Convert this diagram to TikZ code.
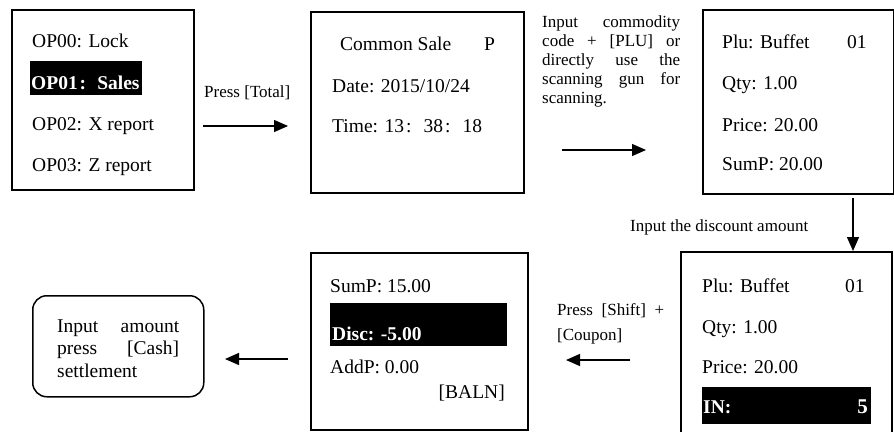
\documentclass[tikz,border=0pt]{standalone}
\usepackage{fontspec}
\setmainfont{Liberation Serif}
\usetikzlibrary{arrows.meta}
\newcommand{\fwc}{\makebox[1em][l]{\hspace{0.1em}:}}
\begin{document}
\begin{tikzpicture}[x=1pt,y=-1pt,
  scr/.style={draw, line width=1.5pt, inner sep=0, anchor=north west},
  hl/.style={fill=black, inner sep=0, anchor=north west},
  bt/.style={anchor=base west, inner sep=0, font=\fontsize{19.5}{22.5}\selectfont},
  bte/.style={anchor=base east, inner sep=0, font=\fontsize{19.5}{22.5}\selectfont},
  wbt/.style={anchor=base west, inner sep=0, text=white, font=\fontsize{19.5}{22.5}\selectfont\bfseries},
  lb/.style={anchor=base west, inner sep=0, font=\fontsize{17}{19}\selectfont},
  arr/.style={line width=1.3pt, -{Triangle[length=14pt,width=12pt]}}]
\useasboundingbox (0,0) rectangle (894,431);
\clip (0,0) rectangle (894,431);

% ---- Box 1: menu
\node[scr, minimum width=182pt, minimum height=180pt] (b1) at (11,9) {};
\node[hl, minimum width=112pt, minimum height=34pt] (h1) at (30,61) {};
\node[bt] (t11) at (32,47) {OP00: Lock};
\node[wbt] (t12) at (31,89) {OP01\fwc Sales};
\node[bt] (t13) at (32,130) {OP02: X report};
\node[bt] (t14) at (32,171) {OP03: Z report};

% ---- Box 2: common sale
\node[scr, minimum width=213pt, minimum height=181pt] (b2) at (310,11) {};
\node[bt] (t21) at (340,50) {Common Sale};
\node[bt] (t21p) at (484,50) {P};
\node[bt] (t22) at (332,92) {Date: 2015/10/24};
\node[bt] (t23) at (332,132) {Time: 13\fwc 38\fwc 18};

% ---- Box 3: PLU
\node[scr, minimum width=191pt, minimum height=184pt] (b3) at (702,9) {};
\node[bt] (t31) at (722,48) {Plu: Buffet};
\node[bt] (t31n) at (847,48) {01};
\node[bt] (t32) at (722,89) {Qty: 1.00};
\node[bt] (t33) at (722,131) {Price: 20.00};
\node[bt] (t34) at (722,170) {SumP: 20.00};

% ---- Box 4: discount input
\node[scr, minimum width=211pt, minimum height=200pt] (b4) at (680,251) {};
\node[hl, minimum width=169pt, minimum height=37pt] (h4) at (702,387) {};
\node[bt] (t41) at (702,292) {Plu: Buffet};
\node[bt] (t41n) at (845,292) {01};
\node[bt] (t42) at (702,333) {Qty: 1.00};
\node[bt] (t43) at (702,373) {Price: 20.00};
\node[wbt] (t44) at (703,413) {IN:};
\node[anchor=base east, inner sep=0, text=white, font=\fontsize{21}{24}\selectfont\bfseries] (t44n) at (868,413) {5};

% ---- Box 5: discount result
\node[scr, minimum width=217pt, minimum height=177pt] (b5) at (310,252) {};
\node[hl, minimum width=177pt, minimum height=43pt] (h5) at (330,303) {};
\node[bt] (t51) at (330,292) {SumP: 15.00};
\node[wbt] (t52) at (332,340) {Disc: -5.00};
\node[bt] (t53) at (330,373) {AddP: 0.00};
\node[bte] (t54) at (505,398) {[BALN]};

% ---- Box 6: settlement
\node[draw, line width=1.5pt, rounded corners=14pt, inner sep=0, anchor=north west,
      minimum width=171pt, minimum height=101pt] (b6) at (32,295) {};
\node[anchor=north west, inner sep=0, align=left, font=\fontsize{19.5}{22.5}\selectfont] (t61) at (57,319.5)
  {\hbox to 122pt{Input\hfill amount}\\ \hbox to 122pt{press\hfill [Cash]}\\ settlement};

% ---- labels
\node[lb] (l1) at (204,97) {Press [Total]};
\node[anchor=north west, inner sep=0, align=left, font=\fontsize{17}{19}\selectfont] (l2) at (542,15.4)
  {\hbox to 138pt{Input\hfill commodity}\\
   \hbox to 138pt{code\hfill +\hfill [PLU]\hfill or}\\
   \hbox to 138pt{directly\hfill use\hfill the}\\
   \hbox to 138pt{scanning\hfill gun\hfill for}\\
   scanning.};
\node[lb] (l3) at (630,231) {Input the discount amount};
\node[lb] (l4) at (557,315) {\hbox to 107pt{Press\hfill [Shift]\hfill +}};
\node[lb] (l5) at (557,340) {[Coupon]};

% ---- arrows
\coordinate (a1s) at (203,126); \coordinate (a1e) at (288,126);
\coordinate (a2s) at (562,150); \coordinate (a2e) at (646,150);
\coordinate (a3s) at (853,198); \coordinate (a3e) at (853,251);
\coordinate (a4s) at (630,360); \coordinate (a4e) at (566,360);
\coordinate (a5s) at (288,359); \coordinate (a5e) at (225,359);
\draw[arr] (a1s) -- (a1e);
\draw[arr] (a2s) -- (a2e);
\draw[arr] (a3s) -- (a3e);
\draw[arr] (a4s) -- (a4e);
\draw[arr] (a5s) -- (a5e);
\end{tikzpicture}
\end{document}
